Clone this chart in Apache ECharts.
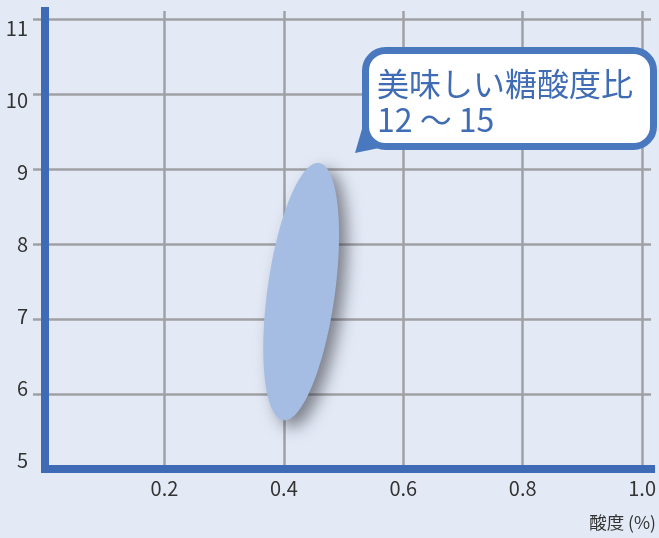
<!DOCTYPE html>
<html><head><meta charset="utf-8">
<script src="https://cdn.jsdelivr.net/npm/echarts@6/dist/echarts.min.js"></script>
<style>html,body{margin:0;padding:0;background:#e3eaf6;}#c{width:659px;height:538px;}</style>
</head><body><div id="c"></div>
<script>
// data
const xTickValues = [0.2, 0.4, 0.6, 0.8, 1.0];
const yTickValues = [5, 6, 7, 8, 9, 10, 11];
const yTickMarks = [6, 7, 8, 9, 10, 11];
// ellipse region: [topAcidity, topBrix, bottomAcidity, bottomBrix, widthAcidity]
const sweetRegion = [[0.459, 9.08, 0.399, 5.65, 0.113]];
const xAxisName = '酸度 (%)';
const bubbleLine1 = '美味しい糖酸度比';
const bubbleLine2 = '12 〜 15';

const AXIS_BLUE = '#3f6bb6';
const GRID_GRAY = '#a0a1a5';
const FONT = '"Noto Sans CJK JP"';
const chart = echarts.init(document.getElementById('c'));
chart.setOption({
  backgroundColor: '#e3eaf6',
  animation: false,
  grid: {left: 45, right: 6, top: 11, bottom: 69},
  xAxis: [{
    type: 'value', min: 0, max: 1.015,
    axisLine: {show: false},
    axisTick: {show: false, customValues: xTickValues},
    splitLine: {show: true, lineStyle: {color: GRID_GRAY, width: 2.5}},
    axisLabel: {customValues: xTickValues, formatter: v => v.toFixed(1), color: '#333', fontSize: 20, margin: 9, fontFamily: 'Noto Sans CJK JP'}
  }, {
    type: 'value', min: 0, max: 1.015, position: 'bottom', z: 10,
    axisLine: {show: true, onZero: false, lineStyle: {color: AXIS_BLUE, width: 8, cap: 'square'}},
    axisTick: {show: false}, splitLine: {show: false}, axisLabel: {show: false}
  }],
  yAxis: [{
    type: 'value', min: 5, max: 11.107,
    axisLine: {show: false},
    axisTick: {show: true, customValues: yTickMarks, length: 12, lineStyle: {color: GRID_GRAY, width: 2.5}},
    splitLine: {show: true, lineStyle: {color: GRID_GRAY, width: 2.5}},
    axisLabel: {show: false}
  }, {
    type: 'value', min: 5, max: 11.107, position: 'left', z: 10,
    axisLine: {show: true, onZero: false, lineStyle: {color: AXIS_BLUE, width: 8, cap: 'square'}},
    axisTick: {show: false}, splitLine: {show: false}, axisLabel: {show: false}
  }, {
    type: 'value', min: 4.875, max: 11.236, position: 'left',
    axisLine: {show: false}, axisTick: {show: false}, splitLine: {show: false},
    axisLabel: {customValues: yTickValues, color: '#333', fontSize: 20, margin: 17, fontFamily: 'Noto Sans CJK JP'}
  }],
  series: [{
    type: 'custom',
    data: sweetRegion,
    renderItem: function (params, api) {
      const top = api.coord([api.value(0), api.value(1)]);
      const bot = api.coord([api.value(2), api.value(3)]);
      const w = api.size([api.value(4), 0])[0];
      const cx = (top[0] + bot[0]) / 2, cy = (top[1] + bot[1]) / 2;
      const dx = top[0] - bot[0], dy = top[1] - bot[1];
      const len = Math.hypot(dx, dy);
      const ux = dx / len, uy = dy / len;
      const vx = -uy, vy = ux;
      const a = len / 2, b = w / 2;
      const pts = [];
      for (let i = 0; i < 120; i++) {
        const t = i / 120 * Math.PI * 2;
        pts.push([cx + ux * a * Math.cos(t) + vx * b * Math.sin(t), cy + uy * a * Math.cos(t) + vy * b * Math.sin(t)]);
      }
      return {
        type: 'polygon', shape: {points: pts},
        style: {fill: '#a5bde3', shadowBlur: 16, shadowColor: 'rgba(40,40,50,0.55)', shadowOffsetX: 8, shadowOffsetY: 7}
      };
    }
  }],
  graphic: [
    {type: 'polygon', shape: {points: [[355, 153], [364, 122], [384, 147]]}, style: {fill: '#4a78be'}, z: 20},
    {type: 'rect', shape: {x: 365.5, y: 50.5, width: 288, height: 96, r: 20}, style: {fill: '#ffffff', stroke: '#4a78be', lineWidth: 7}, z: 21},
    {type: 'text', x: 377, y: 84, style: {text: bubbleLine1, fill: '#3f6cb5', font: '32px ' + FONT, textVerticalAlign: 'middle'}, z: 22},
    {type: 'text', x: 377, y: 120, style: {text: bubbleLine2, fill: '#3f6cb5', font: '32px ' + FONT, textVerticalAlign: 'middle'}, z: 22},
    {type: 'text', x: 656, y: 522, style: {text: xAxisName, fill: '#333', font: '17.5px ' + FONT, textAlign: 'right', textVerticalAlign: 'middle'}, z: 22}
  ]
});
</script></body></html>
